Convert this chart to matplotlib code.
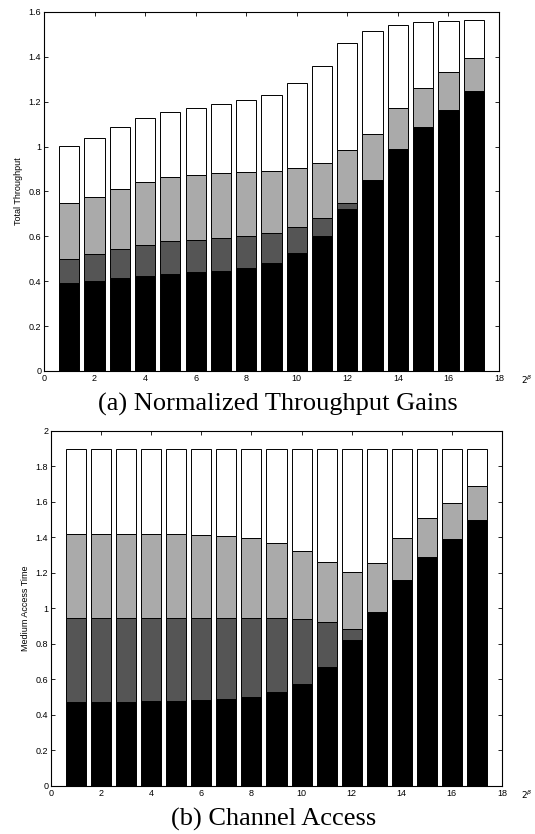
import numpy as np
import matplotlib.pyplot as plt
from matplotlib.ticker import FuncFormatter

# x positions (2^beta index)
beta = np.arange(1, 18)

# (a) normalized throughput, one segment per stack level
thr_black = [0.390, 0.402, 0.415, 0.423, 0.432, 0.439, 0.447, 0.460, 0.482,
             0.525, 0.601, 0.723, 0.850, 0.987, 1.088, 1.165, 1.247]
thr_dark = [0.109, 0.119, 0.128, 0.138, 0.145, 0.146, 0.144, 0.141, 0.133,
            0.115, 0.079, 0.024, 0, 0, 0, 0, 0]
thr_gray = [0.250, 0.256, 0.268, 0.283, 0.286, 0.290, 0.292, 0.286, 0.277,
            0.263, 0.247, 0.237, 0.207, 0.184, 0.174, 0.166, 0.148]
thr_white = [0.253, 0.259, 0.274, 0.284, 0.292, 0.299, 0.305, 0.319, 0.339,
             0.380, 0.432, 0.479, 0.460, 0.372, 0.293, 0.230, 0.169]

# (b) medium access time
mac_black = [0.474, 0.474, 0.474, 0.477, 0.477, 0.483, 0.491, 0.502, 0.527,
             0.577, 0.669, 0.821, 0.981, 1.158, 1.291, 1.391, 1.498]
mac_dark = [0.473, 0.473, 0.473, 0.470, 0.470, 0.464, 0.456, 0.445, 0.420,
            0.363, 0.252, 0.066, 0, 0, 0, 0, 0]
mac_gray = [0.474, 0.474, 0.474, 0.474, 0.470, 0.467, 0.459, 0.448, 0.423,
            0.385, 0.340, 0.320, 0.273, 0.237, 0.220, 0.205, 0.190]
mac_white = [0.479, 0.479, 0.479, 0.479, 0.483, 0.486, 0.494, 0.505, 0.530,
             0.575, 0.639, 0.693, 0.646, 0.505, 0.389, 0.304, 0.212]

colors = ['#000000', '#555555', '#aaaaaa', '#ffffff']

plt.rcParams['font.family'] = ['Liberation Sans', 'DejaVu Sans']

fig = plt.figure(figsize=(5.35, 8.34), dpi=100)
ax1 = fig.add_axes([0.0822, 0.5552, 0.8505, 0.4305])
ax2 = fig.add_axes([0.0953, 0.0576, 0.8430, 0.4257])


def stacked(ax, layers, ymax, ystep, ylabel, beta_x):
    bottom = np.zeros(len(beta))
    for vals, c in zip(layers, colors):
        ax.bar(beta, vals, width=0.8, bottom=bottom, color=c,
               edgecolor='black', linewidth=0.7)
        bottom = bottom + np.array(vals)
    ax.set_xlim(0, 18)
    ax.set_ylim(0, ymax)
    ax.set_xticks(np.arange(0, 19, 2))
    ax.set_yticks(np.arange(0, ymax + 1e-9, ystep))
    ax.yaxis.set_major_formatter(FuncFormatter(lambda v, p: f"{v:g}"))
    ax.tick_params(direction='in', top=True, right=True, labelsize=6.5,
                   length=3, width=0.6, pad=2)
    for s in ax.spines.values():
        s.set_linewidth(0.8)
    ax.set_ylabel(ylabel, fontsize=6.5, labelpad=4)
    ax.annotate(r'$2^{\beta}$', xy=(beta_x, 0), xycoords='axes fraction',
                xytext=(0, -2), textcoords='offset points',
                fontsize=6.5, ha='center', va='top')


stacked(ax1, [thr_black, thr_dark, thr_gray, thr_white], 1.6, 0.2,
        'Total Throughput', 1.061)
stacked(ax2, [mac_black, mac_dark, mac_gray, mac_white], 2.0, 0.2,
        'Medium Access Time', 1.055)

fig.text(278 / 535, 1 - 404 / 834, '(a) Normalized Throughput Gains',
         family='Liberation Serif', fontsize=19, ha='center', va='center')
fig.text(274 / 535, 1 - 819 / 834, '(b) Channel Access',
         family='Liberation Serif', fontsize=19, ha='center', va='center')

fig.savefig('out.png', dpi=100)
